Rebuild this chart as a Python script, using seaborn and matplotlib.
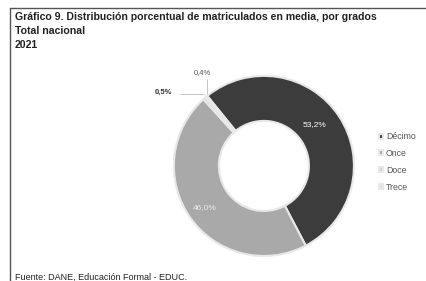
import matplotlib
matplotlib.use('Agg')
import matplotlib.pyplot as plt
import seaborn as sns

# data
grados = ['Décimo', 'Once', 'Doce', 'Trece']
porcentajes = [53.2, 46.0, 0.5, 0.4]
etiquetas = ['53,2%', '46,0%', '0,5%', '0,4%']

titulo = 'Gráfico 9. Distribución porcentual de matriculados en media, por grados'
subtitulo = 'Total nacional'
anio = '2021'
fuente = 'Fuente: DANE, Educación Formal - EDUC.'

sns.set_theme(style='white')
plt.rcParams['font.family'] = ['Liberation Sans', 'DejaVu Sans']

colores = ['#3c3c3c', '#a9a9a9', '#cfcfcf', '#e2e2e2']

fig = plt.figure(figsize=(4.26, 2.81), dpi=100)
fig.patch.set_facecolor('white')

ax = fig.add_axes([0.387, 0.057, 0.465, 0.705])
wedges, _ = ax.pie(porcentajes, colors=colores, startangle=129, counterclock=False,
                   wedgeprops=dict(width=0.5, edgecolor='#e8e8e8', linewidth=1.5))
ax.set_xlim(-1.1, 1.1)
ax.set_ylim(-1.1, 1.1)
ax.set_aspect('equal')

# labels inside the two big slices
ax.text(0.56, 0.46, etiquetas[0], color='white', fontsize=6, ha='center', va='center')
ax.text(-0.66, -0.46, etiquetas[1], color='#ececec', fontsize=6, ha='center', va='center')
# small slices with leader lines
ax.plot([-0.66, -0.93], [0.8, 0.8], color='#bbbbbb', lw=0.6)
ax.text(-1.12, 0.82, etiquetas[2], color='#333333', fontsize=5.5, ha='center', va='center', fontweight='bold')
ax.plot([-0.63, -0.63], [0.8, 0.97], color='#bbbbbb', lw=0.6)
ax.text(-0.68, 1.04, etiquetas[3], color='#555555', fontsize=5.5, ha='center', va='center')

leg = ax.legend(wedges, grados, loc='center left', bbox_to_anchor=(1.04, 0.52), frameon=False,
                fontsize=6.3, handlelength=0.5, handleheight=0.5, handletextpad=0.3,
                labelspacing=0.9, labelcolor='#555555')

fig.text(0.035, 0.938, titulo, fontsize=7.6, fontweight='bold', color='#222222', va='center')
fig.text(0.035, 0.888, subtitulo, fontsize=7.6, fontweight='bold', color='#222222', va='center')
fig.text(0.035, 0.84, anio, fontsize=7.6, fontweight='bold', color='#222222', va='center')
fig.text(0.035, 0.012, fuente, fontsize=6.5, color='#222222', va='center')

# frame lines of the scanned box
fig.add_artist(plt.Line2D([0.023, 0.023], [0.0, 0.97], color='#555555', lw=1))
fig.add_artist(plt.Line2D([0.023, 1.0], [0.97, 0.97], color='#555555', lw=1))

fig.savefig('out.png', dpi=100)
